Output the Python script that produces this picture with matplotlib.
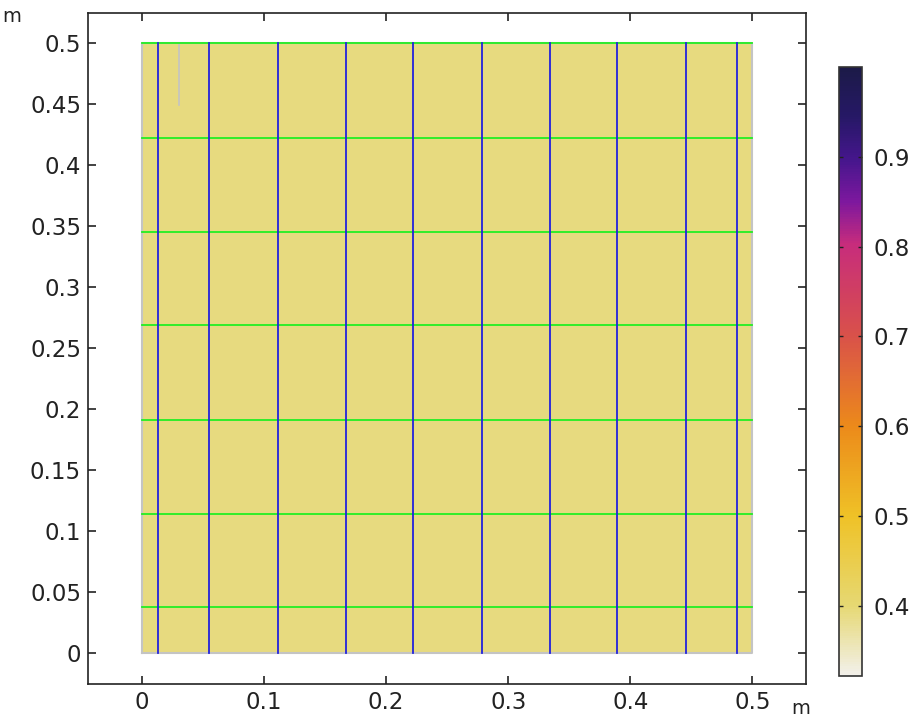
import numpy as np
import matplotlib
matplotlib.use("Agg")
import matplotlib.pyplot as plt
from matplotlib.colors import LinearSegmentedColormap

# domain and field
domain_x = (0.0, 0.5)
domain_y = (0.0, 0.5)
field_value = 0.392
clim = (0.322, 1.0)

# contour/streamline positions (m)
vertical_lines = [0.0131, 0.0549, 0.1115, 0.1672, 0.2221, 0.2787, 0.3344,
                  0.3893, 0.4459, 0.4877]
horizontal_lines = [0.0376, 0.1144, 0.1912, 0.2688, 0.3448, 0.4224, 0.5]

# short grey segment near the top-left corner
grey_segment_x = 0.030
grey_segment_y = (0.449, 0.5)

xticks = [0, 0.1, 0.2, 0.3, 0.4, 0.5]
yticks = [0, 0.05, 0.1, 0.15, 0.2, 0.25, 0.3, 0.35, 0.4, 0.45, 0.5]
cbar_ticks = [0.4, 0.5, 0.6, 0.7, 0.8, 0.9]

# thermal-light style colormap
cmap_pos = [0.0, 0.115, 0.26, 0.41, 0.56, 0.71, 0.78, 0.85, 0.92, 1.0]
cmap_cols = ["#f2f0ea", "#e6d872", "#efc227", "#ec8a1a", "#d9514a",
             "#c72c7c", "#7d189e", "#45168c", "#261866", "#1c1a48"]
cmap = LinearSegmentedColormap.from_list("thermal_light",
                                         list(zip(cmap_pos, cmap_cols)))

plt.rcParams['font.family'] = ['DejaVu Sans']
label_size = 16.5

fig = plt.figure(figsize=(9.12, 7.21), dpi=100)
ax = fig.add_axes([0.0965, 0.0499, 0.7873, 0.9335])

img = ax.imshow(np.full((2, 2), field_value), cmap=cmap,
                vmin=clim[0], vmax=clim[1],
                extent=[domain_x[0], domain_x[1], domain_y[0], domain_y[1]],
                origin="lower", interpolation="nearest", zorder=1)

# domain boundary
ax.plot([domain_x[0], domain_x[1], domain_x[1], domain_x[0], domain_x[0]],
        [domain_y[0], domain_y[0], domain_y[1], domain_y[1], domain_y[0]],
        color="#c4c4c4", lw=1.5, zorder=2)

ax.plot([grey_segment_x, grey_segment_x], grey_segment_y,
        color="#c4c4c4", lw=1.2, zorder=2)

for y in horizontal_lines:
    ax.plot(domain_x, [y, y], color="#22ee22", lw=1.3, zorder=3)
for x in vertical_lines:
    ax.plot([x, x], domain_y, color="#2222dd", lw=1.3, zorder=4)

ax.set_xlim(-0.0443, 0.544)
ax.set_ylim(-0.0253, 0.5245)
ax.set_xticks(xticks)
ax.set_xticklabels([f"{t:g}" for t in xticks])
ax.set_yticks(yticks)
ax.set_yticklabels([f"{t:g}" for t in yticks])
ax.tick_params(direction="in", length=6, width=1.2, labelsize=label_size,
               top=True, right=True, colors="#222222", pad=5)
for s in ax.spines.values():
    s.set_linewidth(1.2)
    s.set_color("#222222")

fig.text(12 / 912, 1 - 16.5 / 721, "m", fontsize=14, ha="center",
         va="center", color="#222222")
fig.text(801 / 912, 1 - 709 / 721, "m", fontsize=14, ha="center",
         va="center", color="#222222")

cax = fig.add_axes([839 / 912, 1 - 676 / 721, 23 / 912, 609 / 721])
cb = fig.colorbar(img, cax=cax, ticks=cbar_ticks)
cb.ax.tick_params(direction="in", length=3, width=1, labelsize=label_size,
                  left=True, right=True, colors="#222222", pad=8)
cb.ax.set_yticklabels([f"{t:g}" for t in cbar_ticks])
cb.outline.set_edgecolor("#333333")
cb.outline.set_linewidth(1.2)

fig.savefig("out.png", dpi=100)
